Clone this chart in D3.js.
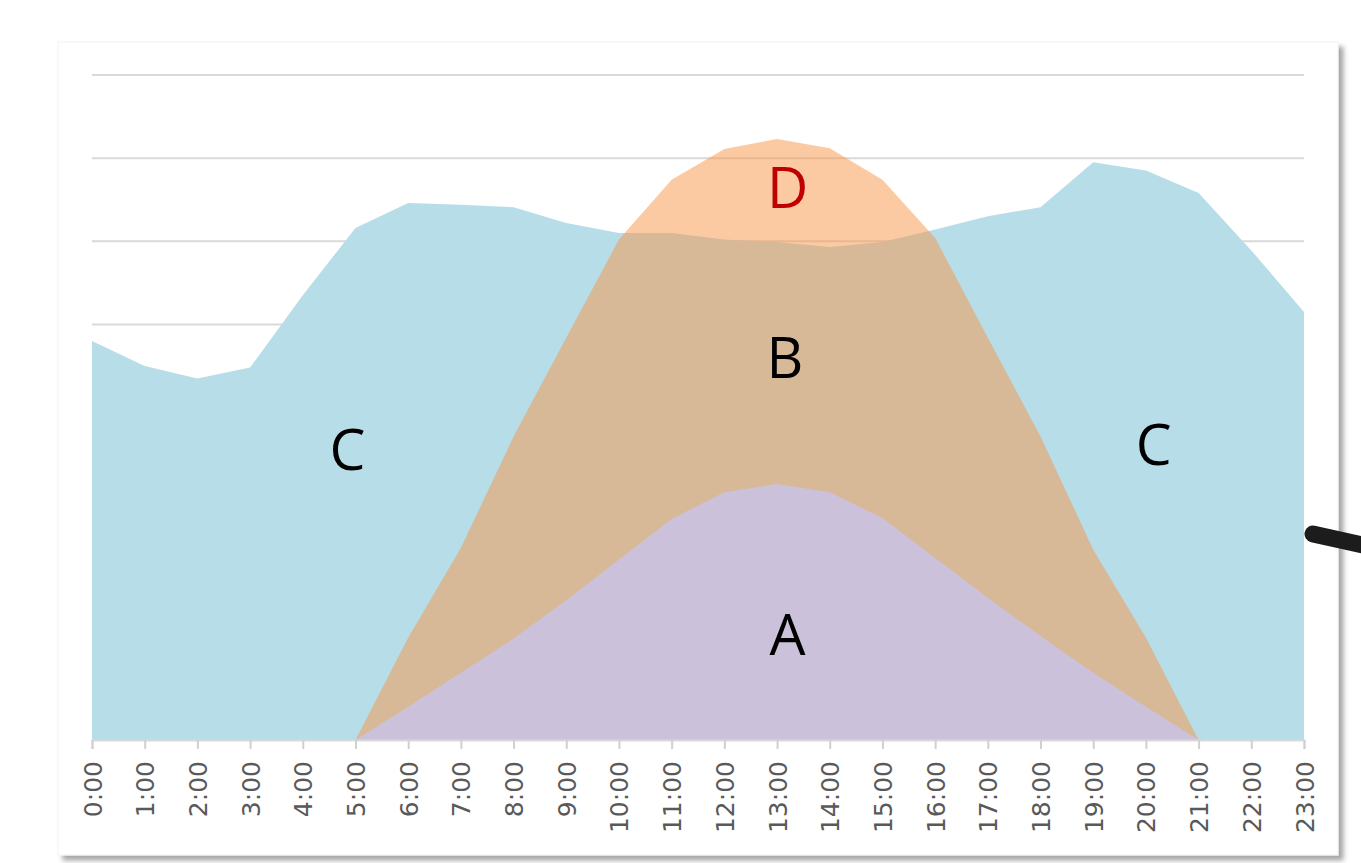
<!DOCTYPE html>
<html>
<head>
<meta charset="utf-8">
<script src="https://cdn.jsdelivr.net/npm/d3@7"></script>
<style>
  html, body { margin: 0; padding: 0; background: #ffffff; }
  #chart { width: 1361px; height: 863px; }
</style>
</head>
<body>
<div id="chart"></div>
<script>
// hour labels on the x axis
const hourLabels = ["0:00","1:00","2:00","3:00","4:00","5:00","6:00","7:00","8:00","9:00","10:00","11:00",
  "12:00","13:00","14:00","15:00","16:00","17:00","18:00","19:00","20:00","21:00","22:00","23:00"];

// C : light blue area (whole day)
const seriesC = [4.80, 4.50, 4.35, 4.48, 5.35, 6.16, 6.46, 6.44, 6.41, 6.22, 6.10, 6.10,
  6.02, 5.99, 5.93, 5.99, 6.14, 6.30, 6.41, 6.95, 6.85, 6.58, 5.89, 5.15];

// B + D : orange area (daytime only, null = no value)
const seriesBD = [null, null, null, null, null, 0, 1.23, 2.31, 3.65, 4.84, 6.02, 6.74,
  7.11, 7.23, 7.12, 6.74, 6.04, 4.84, 3.65, 2.29, 1.23, 0, null, null];

// A : purple area
const seriesA = [null, null, null, null, null, 0, 0.40, 0.81, 1.22, 1.68, 2.17, 2.66,
  2.98, 3.08, 2.98, 2.67, 2.19, 1.71, 1.25, 0.81, 0.40, 0, null, null];

// y gridlines
const gridValues = [5, 6, 7, 8];

// area labels
const labelNames = ["C", "B", "A", "D", "C"];
const labelHours = [4.85, 13.15, 13.2, 13.2, 20.15];
const labelLevels = [3.25, 4.35, 1.02, 6.4, 3.31];
const labelColors = ["#000000", "#000000", "#000000", "#c00000", "#000000"];

const width = 1361, height = 863;
const plot = { left: 92, right: 1304, top: 75, bottom: 740 };

const svg = d3.select("#chart")
  .append("svg")
  .attr("width", width)
  .attr("height", height);

// shadow for the chart frame
const defs = svg.append("defs");
const shadow = defs.append("filter")
  .attr("id", "shadow")
  .attr("x", "-5%").attr("y", "-5%")
  .attr("width", "110%").attr("height", "110%");
shadow.append("feDropShadow")
  .attr("dx", 5).attr("dy", 5)
  .attr("stdDeviation", 2.5)
  .attr("flood-color", "#000")
  .attr("flood-opacity", 0.35);

svg.append("rect")
  .attr("x", 58).attr("y", 42)
  .attr("width", 1280).attr("height", 813)
  .attr("fill", "#ffffff")
  .attr("stroke", "#f2f2f2")
  .attr("stroke-width", 1)
  .attr("filter", "url(#shadow)");

var x = d3.scaleLinear()
  .domain([0, hourLabels.length - 1])
  .range([plot.left, plot.right]);

var y = d3.scaleLinear()
  .domain([0, 8])
  .range([plot.bottom, plot.top]);

// gridlines (behind the areas)
svg.append("g")
  .selectAll("line")
  .data(gridValues)
  .enter()
  .append("line")
  .attr("x1", plot.left)
  .attr("x2", plot.right)
  .attr("y1", d => y(d))
  .attr("y2", d => y(d))
  .attr("stroke", "#d9d9d9")
  .attr("stroke-width", 2);

function areaFor(values) {
  return d3.area()
    .defined((d, i) => values[i] !== null)
    .x((d, i) => x(i))
    .y0(y(0))
    .y1((d, i) => y(values[i]));
}

// C
svg.append("path")
  .datum(seriesC)
  .attr("fill", "#b7dde8")
  .attr("d", areaFor(seriesC));

// B + D, half transparent
svg.append("path")
  .datum(seriesBD)
  .attr("fill", "#f79646")
  .attr("fill-opacity", 0.5)
  .attr("d", areaFor(seriesBD));

// A
svg.append("path")
  .datum(seriesA)
  .attr("fill", "#ccc1da")
  .attr("d", areaFor(seriesA));

// x axis
const xAxis = svg.append("g")
  .attr("transform", "translate(0," + plot.bottom + ")")
  .call(d3.axisBottom(x)
    .tickValues(d3.range(hourLabels.length))
    .tickFormat(i => hourLabels[i])
    .tickSize(9)
    .tickPadding(0));

xAxis.select(".domain")
  .attr("stroke", "#d9d9d9")
  .attr("stroke-width", 2);
xAxis.selectAll(".tick line")
  .attr("stroke", "#d0d0d0")
  .attr("stroke-width", 2);
xAxis.selectAll(".tick text")
  .attr("transform", "rotate(-90)")
  .attr("text-anchor", "end")
  .attr("x", -21)
  .attr("y", 0)
  .attr("dy", "0.36em")
  .style("font-family", "DejaVu Sans")
  .style("font-size", "25px")
  .attr("fill", "#595959");

// labels inside the areas
svg.append("g")
  .selectAll("text")
  .data(labelNames)
  .enter()
  .append("text")
  .attr("x", (d, i) => x(labelHours[i]))
  .attr("y", (d, i) => y(labelLevels[i]))
  .attr("text-anchor", "middle")
  .style("font-family", "Open Sans")
  .style("font-size", "57px")
  .attr("fill", (d, i) => labelColors[i])
  .text(d => d);

// black pen mark at the right edge
svg.append("line")
  .attr("x1", 1313).attr("y1", 534)
  .attr("x2", 1385).attr("y2", 550)
  .attr("stroke", "#1c1c1c")
  .attr("stroke-width", 17)
  .attr("stroke-linecap", "round");
</script>
</body>
</html>
